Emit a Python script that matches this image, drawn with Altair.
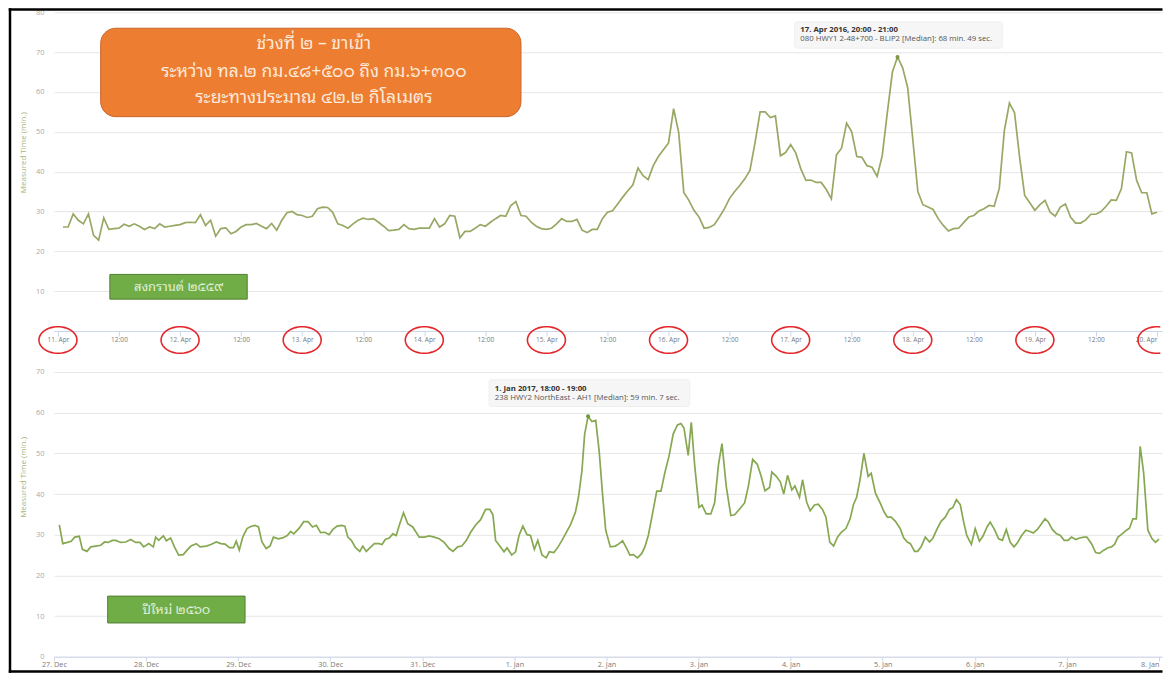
import math
import altair as alt
import pandas as pd

FONT = "Open Sans"
THAI = "Noto Sans Thai Looped, Noto Serif Thai, Loma, Garuda, Norasi, Tlwg Typo, Noto Sans Thai, sans-serif"

# ---------------- top panel : Songkran 2016 (hourly, from 11 Apr 01:00) ----------------
TOP_START = "2016-04-11 00:00"
TOP_VALUES = [
    26.1, 26.1, 29.4, 27.8, 26.9, 29.4, 24.0, 22.8, 28.4, 25.5,
    25.7, 25.8, 26.8, 26.3, 26.9, 26.3, 25.5, 26.1, 25.7, 26.9,
    26.1, 26.3, 26.5, 26.7, 27.2, 27.3, 27.2, 29.2, 26.5, 27.8,
    23.8, 25.7, 25.9, 24.4, 25.0, 26.1, 26.7, 26.7, 27.0, 26.3,
    25.7, 27.0, 25.3, 27.8, 29.7, 30.0, 29.2, 29.0, 28.5, 28.8,
    30.7, 31.1, 31.0, 29.8, 26.9, 26.5, 25.8, 26.9, 27.8, 28.3,
    28.0, 28.2, 27.3, 26.3, 25.2, 25.3, 25.5, 26.7, 25.7, 25.5,
    25.8, 25.8, 25.8, 28.2, 26.1, 26.9, 29.0, 28.8, 23.4, 25.0,
    25.0, 25.8, 26.7, 26.3, 27.3, 28.2, 29.0, 28.8, 31.5, 32.5,
    29.0, 28.8, 27.3, 26.3, 25.7, 25.5, 25.8, 26.9, 28.2, 27.5,
    27.5, 28.0, 25.3, 24.7, 25.5, 25.5, 28.2, 29.8, 30.2, 31.9,
    33.6, 35.2, 36.7, 40.9, 39.0, 38.0, 41.5, 43.8, 45.5, 47.2,
    55.8, 49.8, 34.8, 32.8, 30.3, 28.6, 25.8, 26.0, 26.7, 28.6,
    30.7, 33.3, 35.0, 36.5, 38.2, 40.3, 47.3, 55.0, 55.0, 53.6,
    54.0, 44.0, 44.8, 46.8, 44.7, 40.7, 37.8, 37.9, 37.3, 37.3,
    35.5, 33.2, 44.2, 45.9, 52.2, 50.0, 43.8, 43.6, 41.5, 41.1,
    38.8, 44.0, 54.8, 65.0, 68.8, 66.1, 61.1, 48.2, 35.0, 31.7,
    31.1, 30.5, 28.2, 26.5, 25.1, 25.7, 25.8, 27.2, 28.6, 29.0,
    30.1, 30.7, 31.5, 31.3, 35.8, 50.3, 57.2, 54.8, 43.6, 34.0,
    32.2, 30.3, 31.7, 32.8, 29.8, 28.8, 31.1, 31.9, 28.6, 27.1,
    27.1, 27.9, 29.3, 29.3, 30.0, 31.3, 32.9, 32.8, 35.7, 45.0,
    44.7, 37.8, 34.7, 34.7, 29.4, 29.8,
]
TOP_DOMAIN = ("2016-04-10 23:13", "2016-04-20 00:59")
TOP_Y_TICKS = [10, 20, 30, 40, 50, 60, 70, 80]
TOP_CIRCLED_DAYS = ["2016-04-11", "2016-04-12", "2016-04-13", "2016-04-14", "2016-04-15",
                    "2016-04-16", "2016-04-17", "2016-04-18", "2016-04-19"]
TOP_CIRCLED_LAST = ["2016-04-20"]

# ---------------- bottom panel : New Year 2017 ----------------
BOT_START = "2016-12-27 00:00"
BOT_HOURS = [
    1.4, 2.3, 3.5, 4.5, 5.4, 6.6, 7.4, 8.6, 9.6, 10.9,
    12.2, 13.2, 14.1, 15.2, 16.1, 17.4, 18.7, 20.0, 21.3, 22.4,
    23.4, 24.7, 25.9, 26.5, 27.3, 28.5, 29.3, 30.4, 31.4, 32.5,
    33.7, 34.7, 35.7, 37.1, 38.1, 39.7, 40.9, 42.3, 43.5, 44.6,
    45.7, 46.8, 47.5, 48.3, 49.2, 50.3, 51.3, 52.4, 53.3, 54.2,
    55.3, 56.3, 57.2, 58.5, 59.6, 60.8, 61.7, 62.5, 63.9, 65.1,
    66.2, 67.4, 68.4, 69.5, 70.6, 71.7, 72.7, 73.8, 74.9, 75.8,
    76.6, 77.5, 78.6, 79.7, 80.5, 81.4, 82.4, 83.5, 84.7, 85.5,
    86.4, 87.4, 88.3, 89.2, 90.0, 91.1, 92.2, 93.5, 95.2, 96.5,
    97.8, 99.1, 100.4, 101.7, 103.0, 104.0, 105.2, 106.3, 107.5, 108.6,
    109.9, 111.2, 112.5, 113.6, 114.4, 115.1, 116.2, 117.3, 118.1, 119.3,
    120.3, 121.2, 122.2, 123.3, 124.2, 125.2, 126.1, 127.2, 128.3, 129.1,
    130.3, 131.4, 132.4, 133.5, 134.6, 135.9, 136.7, 137.6, 138.3, 139.2,
    140.2, 141.2, 142.1, 143.0, 143.8, 145.0, 146.3, 147.3, 148.2, 149.3,
    150.1, 151.0, 152.1, 153.2, 154.0, 154.9, 155.9, 157.1, 158.2, 159.2,
    160.3, 161.4, 162.5, 163.4, 164.2, 165.3, 166.1, 167.0, 168.1, 168.9,
    170.0, 171.2, 172.2, 173.2, 174.1, 175.2, 176.4, 177.4, 178.7, 180.0,
    181.0, 182.1, 183.3, 184.3, 185.3, 186.5, 187.1, 188.2, 189.3, 190.2,
    191.2, 192.3, 193.1, 194.3, 195.1, 196.2, 197.1, 198.2, 199.2, 200.3,
    201.2, 202.2, 203.2, 204.2, 205.2, 206.4, 207.5, 208.4, 209.2, 210.1,
    211.1, 212.2, 213.0, 214.1, 215.3, 216.3, 217.2, 218.2, 219.3, 220.5,
    221.5, 222.4, 223.2, 224.3, 225.1, 226.0, 227.1, 228.2, 229.1, 230.2,
    231.2, 232.3, 233.4, 234.3, 235.2, 236.2, 237.1, 237.9, 239.1, 240.1,
    241.2, 242.1, 243.2, 244.0, 245.1, 246.2, 247.2, 248.2, 249.2, 250.2,
    251.1, 252.2, 253.3, 254.4, 255.2, 256.3, 257.1, 258.3, 259.1, 260.2,
    261.3, 262.3, 263.3, 264.3, 265.2, 266.3, 267.3, 268.4, 269.2, 270.4,
    271.5, 272.5, 273.6, 274.7, 275.6, 276.4, 277.3, 278.4, 279.5, 280.3,
    281.2, 282.1, 283.1, 284.0, 285.1, 286.2, 287.1, 288.0,
]
BOT_VALUES = [
    32.4, 27.8, 28.1, 28.4, 29.4, 29.6, 26.4, 25.9, 27.0, 27.2,
    27.4, 28.2, 28.1, 28.6, 28.6, 28.1, 28.2, 28.8, 28.1, 28.1,
    27.0, 27.8, 27.0, 29.4, 28.6, 29.7, 28.5, 29.2, 27.0, 25.0,
    25.1, 26.2, 27.2, 27.8, 27.0, 27.2, 27.6, 28.2, 27.8, 27.7,
    26.8, 26.8, 28.4, 26.2, 29.4, 31.5, 32.0, 32.3, 31.9, 28.2,
    26.6, 27.2, 29.4, 29.0, 29.2, 29.8, 30.8, 30.2, 31.6, 33.2,
    33.2, 31.9, 32.3, 30.5, 30.6, 30.0, 31.3, 32.1, 32.3, 32.1,
    29.4, 28.6, 26.8, 25.9, 27.2, 25.9, 26.8, 27.8, 27.8, 27.6,
    28.9, 29.2, 30.2, 29.8, 32.3, 35.4, 32.7, 31.9, 29.4, 29.4,
    29.7, 29.4, 29.0, 28.1, 26.6, 25.9, 27.0, 27.2, 28.6, 30.6,
    32.4, 33.7, 36.2, 36.2, 34.9, 28.6, 27.2, 25.8, 26.8, 25.0,
    25.8, 29.8, 32.1, 30.0, 29.8, 26.4, 28.6, 25.0, 24.3, 25.8,
    25.6, 27.0, 28.6, 30.5, 32.4, 35.5, 39.2, 45.7, 54.6, 59.1,
    57.8, 58.1, 50.5, 39.6, 31.1, 27.0, 27.2, 27.8, 28.5, 26.6,
    25.0, 25.1, 24.3, 25.4, 27.0, 29.8, 34.7, 40.7, 40.7, 45.2,
    49.3, 54.8, 57.0, 57.3, 56.2, 49.5, 57.6, 46.9, 36.7, 37.3,
    35.1, 35.1, 37.9, 47.3, 52.4, 42.0, 34.7, 34.9, 36.3, 37.8,
    42.0, 48.5, 47.3, 44.4, 40.8, 41.6, 45.4, 44.4, 43.0, 40.0,
    44.6, 41.0, 42.0, 39.2, 43.5, 37.9, 35.9, 37.3, 37.5, 36.2,
    34.3, 28.2, 27.2, 29.4, 30.6, 31.5, 33.9, 37.5, 39.2, 43.6,
    50.0, 44.3, 45.1, 40.2, 37.9, 35.7, 34.3, 34.3, 33.3, 31.6,
    29.2, 28.2, 27.8, 25.9, 25.9, 27.0, 29.4, 28.2, 29.2, 31.5,
    33.3, 34.3, 36.2, 36.7, 38.6, 37.4, 33.1, 29.8, 27.6, 31.5,
    28.4, 29.6, 31.9, 33.1, 31.3, 29.0, 28.6, 31.3, 28.2, 27.0,
    28.0, 29.8, 31.1, 30.8, 30.4, 31.3, 32.3, 33.9, 33.2, 31.3,
    30.2, 29.8, 28.6, 28.6, 29.4, 28.8, 29.2, 29.4, 29.4, 27.8,
    25.6, 25.4, 26.2, 26.8, 27.0, 27.6, 29.4, 30.2, 31.1, 31.6,
    33.9, 33.9, 51.7, 45.2, 31.1, 29.0, 28.1, 28.9,
]
BOT_DOMAIN = ("2016-12-27 00:00", "2017-01-08 00:47")
BOT_Y_TICKS = [0, 10, 20, 30, 40, 50, 60, 70]

# ---------------- annotations (hours from panel start, values in minutes) ----------------
TOP_BOX = (8.4, 91.0, 76.0, 53.8)
TOP_BOX_LINES = ["ช่วงที่ ๒ – ขาเข้า",
                 "ระหว่าง ทล.๒ กม.๔๘+๕๐๐ ถึง กม.๖+๓๐๐",
                 "ระยะทางประมาณ ๔๒.๒ กิโลเมตร"]
TOP_BOX_LINE_H = 50.3
TOP_BOX_LINE_V = [72.0, 65.0, 58.5]
TOP_TAG = "สงกรานต์ ๒๕๕๙"
TOP_TAG_BOX = (10.2, 37.2, 14.2, 8.0)
BOT_TAG = "ปีใหม่ ๒๕๖๐"
BOT_TAG_BOX = (14.0, 49.8, 14.9, 8.3)
TOP_TIP = ["17. Apr 2016, 20:00 - 21:00",
           "080 HWY1 2-48+700 - BLIP2 [Median]: 68 min. 49 sec."]
TOP_TIP_BOX = (144.8, 185.6, 77.6, 71.0)
TOP_TIP_H = 145.9
TOP_TIP_V = [75.6, 73.2]
TOP_PEAK = (165.0, 68.8)
BOT_TIP = ["1. Jan 2017, 18:00 - 19:00",
           "238 HWY2 NorthEast - AH1 [Median]: 59 min. 7 sec."]
BOT_TIP_BOX = (113.4, 165.7, 68.1, 61.5)
BOT_TIP_H = 114.9
BOT_TIP_V = [65.9, 63.6]
BOT_PEAK = (139.2, 59.1)

TOP_W, TOP_H = 1109, 319
BOT_W, BOT_H = 1109, 285
GAP = 41


def ellipse_path(a0, a1, step, closed):
    angles = list(range(a0, a1, step)) + [a1]
    pts = [(math.cos(math.radians(a)), 0.7 * math.sin(math.radians(a))) for a in angles]
    d = "M " + " L ".join(f"{x:.3f} {y:.3f}" for x, y in pts)
    return d + (" Z" if closed else "")


ELLIPSE = ellipse_path(0, 360, 6, True)
ELLIPSE_CUT = ellipse_path(80, 280, 4, False)


def at(start, h):
    return pd.Timestamp(start) + pd.to_timedelta(h, unit="h")


def dt(ts):
    ts = pd.Timestamp(ts)
    return alt.DateTime(year=ts.year, month=ts.month, date=ts.day,
                        hours=ts.hour, minutes=ts.minute)


def annotations(start, X, Y, tag_box, tag, tip_box, tip_lines, tip_h, tip_v, peak, peak_color):
    layers = []
    tip_df = pd.DataFrame({"t": [at(start, tip_box[0])], "t2": [at(start, tip_box[1])],
                           "v": [tip_box[2]], "v2": [tip_box[3]]})
    layers.append(alt.Chart(tip_df).mark_rect(fill="#f6f6f6", stroke="#efefef", cornerRadius=2)
                  .encode(x=X(), x2="t2", y=Y(), y2="v2"))
    t1 = pd.DataFrame({"t": [at(start, tip_h)], "v": [tip_v[0]], "label": [tip_lines[0]]})
    t2 = pd.DataFrame({"t": [at(start, tip_h)], "v": [tip_v[1]], "label": [tip_lines[1]]})
    layers.append(alt.Chart(t1).mark_text(align="left", baseline="middle", font=FONT, fontSize=7.8,
                                          fontWeight="bold", color="#333333")
                  .encode(x=X(), y=Y(), text="label"))
    layers.append(alt.Chart(t2).mark_text(align="left", baseline="middle", font=FONT, fontSize=7.8,
                                          color="#555555")
                  .encode(x=X(), y=Y(), text="label"))
    pk = pd.DataFrame({"t": [at(start, peak[0])], "v": [peak[1]]})
    layers.append(alt.Chart(pk).mark_point(filled=True, size=16, color=peak_color, opacity=1)
                  .encode(x=X(), y=Y()))
    gdf = pd.DataFrame({"t": [at(start, tag_box[0])], "t2": [at(start, tag_box[1])],
                        "v": [tag_box[2]], "v2": [tag_box[3]]})
    layers.append(alt.Chart(gdf).mark_rect(fill="#70ad47", stroke="#507e32", strokeWidth=1)
                  .encode(x=X(), x2="t2", y=Y(), y2="v2"))
    gt = pd.DataFrame({"t": [at(start, (tag_box[0] + tag_box[1]) / 2)],
                       "v": [(tag_box[2] + tag_box[3]) / 2], "label": [tag]})
    layers.append(alt.Chart(gt).mark_text(align="center", baseline="middle", font=THAI, fontSize=13,
                                          color="#e2f0d9")
                  .encode(x=X(), y=Y(), text="label"))
    return layers


# ---------------- top chart ----------------
top_xs = alt.Scale(domain=[dt(TOP_DOMAIN[0]), dt(TOP_DOMAIN[1])])
top_ys = alt.Scale(domain=[0, 80], nice=False)
top_ticks = [dt(at(TOP_START, 12 * k)) for k in range(19)]
top_xaxis = alt.Axis(
    values=top_ticks, title=None, grid=False,
    labelExpr="hours(datum.value) == 0 ? timeFormat(datum.value, '%-d. %b') : timeFormat(datum.value, '%H:%M')",
    labelAlign={"condition": {"test": "datum.value > datetime(2016, 3, 19, 18)", "value": "right"},
                "value": "center"},
    labelFontSize=6.6, labelColor="#7a7a7a", labelPadding=1, tickSize=5, labelFont=FONT,
    domainColor="#ccd6eb", tickColor="#ccd6eb", labelFlush=False, labelOverlap=False)
top_yaxis = alt.Axis(
    values=TOP_Y_TICKS, title="Measured Time (min.)", titleColor="#a9b47b", titleFontSize=8,
    titleFontWeight="normal", titleFont=FONT, titlePadding=8, titleY=140, labelPadding=10,
    labelFontSize=7.5, labelColor="#aaaaaa", labelFont=FONT, domain=False, ticks=False,
    gridColor="#e6e6e6")
TX = lambda: alt.X("t:T", scale=top_xs, axis=top_xaxis)
TY = lambda: alt.Y("v:Q", scale=top_ys, axis=top_yaxis)

top_df = pd.DataFrame({"t": [at(TOP_START, h) for h in range(1, len(TOP_VALUES) + 1)],
                       "v": TOP_VALUES})
top_line = alt.Chart(top_df).mark_line(color="#97a865", strokeWidth=1.7).encode(x=TX(), y=TY())

ob = pd.DataFrame({"t": [at(TOP_START, TOP_BOX[0])], "t2": [at(TOP_START, TOP_BOX[1])],
                   "v": [TOP_BOX[2]], "v2": [TOP_BOX[3]]})
orange_rect = alt.Chart(ob).mark_rect(fill="#ed7d31", stroke="#c9652b", strokeWidth=1,
                                      cornerRadius=15).encode(x=TX(), x2="t2", y=TY(), y2="v2")
otx = pd.DataFrame({"t": [at(TOP_START, TOP_BOX_LINE_H)] * 3, "v": TOP_BOX_LINE_V,
                    "label": TOP_BOX_LINES})
orange_text = alt.Chart(otx).mark_text(align="center", baseline="middle", font=THAI, fontSize=17.5,
                                       color="#fdeada").encode(x=TX(), y=TY(), text="label")

ell = pd.DataFrame({"t": [pd.Timestamp(d) for d in TOP_CIRCLED_DAYS]})
ellipses = alt.Chart(ell).mark_point(shape=ELLIPSE, size=1444, filled=False, color="#e3262b",
                                     strokeWidth=1.6, strokeJoin="round", opacity=1).encode(
    x=TX(), y=alt.value(TOP_H + 9))
ell2 = pd.DataFrame({"t": [pd.Timestamp(d) for d in TOP_CIRCLED_LAST]})
ellipse_cut = alt.Chart(ell2).mark_point(shape=ELLIPSE_CUT, size=1444, filled=False,
                                         color="#e3262b", strokeWidth=1.6, strokeJoin="round",
                                         opacity=1).encode(
    x=TX(), y=alt.value(TOP_H + 9))

# black frame of the original screenshot (svg pixels relative to the top plot), drawn as
# stroke-less rects so that the chart bounds stay exact
FRAME_L, FRAME_R, FRAME_T = -45.25, 1109.5, -4
FRAME_B = TOP_H + GAP + BOT_H + 16
FW = 2.5
one = pd.DataFrame({"a": [0]})
frame_left = alt.Chart(one).mark_rect(color="black", strokeWidth=0).encode(
    x=alt.value(FRAME_L), x2=alt.value(FRAME_L + FW), y=alt.value(FRAME_T), y2=alt.value(FRAME_B))
frame_top = alt.Chart(one).mark_rect(color="black", strokeWidth=0).encode(
    x=alt.value(FRAME_L), x2=alt.value(FRAME_R), y=alt.value(FRAME_T), y2=alt.value(FRAME_T + FW))
frame_bottom = alt.Chart(one).mark_rect(color="black", strokeWidth=0).encode(
    x=alt.value(FRAME_L), x2=alt.value(FRAME_R), y=alt.value(FRAME_B - FW), y2=alt.value(FRAME_B))

top = alt.layer(
    top_line, orange_rect, orange_text,
    *annotations(TOP_START, TX, TY, TOP_TAG_BOX, TOP_TAG, TOP_TIP_BOX, TOP_TIP,
                 TOP_TIP_H, TOP_TIP_V, TOP_PEAK, "#7d9645"),
    ellipses, ellipse_cut, frame_left, frame_top, frame_bottom,
).properties(width=TOP_W, height=TOP_H)

# ---------------- bottom chart ----------------
bot_xs = alt.Scale(domain=[dt(BOT_DOMAIN[0]), dt(BOT_DOMAIN[1])])
bot_ys = alt.Scale(domain=[0, 70], nice=False)
bot_ticks = [dt(at(BOT_START, 24 * k)) for k in range(13)]
bot_xaxis = alt.Axis(
    values=bot_ticks, title=None, grid=False, format="%-d. %b", labelFont=FONT,
    labelAlign={"condition": {"test": "datum.value > datetime(2017, 0, 7, 12)", "value": "right"},
                "value": "center"},
    labelFontSize=7.3, labelColor="#7a7a7a", labelPadding=0, tickSize=4,
    domainColor="#ccd6eb", tickColor="#ccd6eb", labelFlush=False, labelOverlap=False)
bot_yaxis = alt.Axis(
    values=BOT_Y_TICKS, title="Measured Time (min.)", titleColor="#a9b47b", titleFontSize=8,
    titleFontWeight="normal", titleFont=FONT, titlePadding=8, titleY=105, labelPadding=10,
    labelFontSize=7.5, labelColor="#aaaaaa", labelFont=FONT, domain=False, ticks=False,
    gridColor="#e6e6e6")
BX = lambda: alt.X("t:T", scale=bot_xs, axis=bot_xaxis)
BY = lambda: alt.Y("v:Q", scale=bot_ys, axis=bot_yaxis)

bot_df = pd.DataFrame({"t": [at(BOT_START, h) for h in BOT_HOURS], "v": BOT_VALUES})
bot_line = alt.Chart(bot_df).mark_line(color="#86a851", strokeWidth=1.7).encode(x=BX(), y=BY())

bottom = alt.layer(
    bot_line,
    *annotations(BOT_START, BX, BY, BOT_TAG_BOX, BOT_TAG, BOT_TIP_BOX, BOT_TIP,
                 BOT_TIP_H, BOT_TIP_V, BOT_PEAK, "#6f9a3a"),
).properties(width=BOT_W, height=BOT_H)

chart = alt.vconcat(top, bottom, spacing=GAP, bounds="flush").properties(
    padding={"left": 0, "top": 0, "right": 0, "bottom": 0}
).configure(font=FONT, background="white").configure_view(stroke=None)

chart.save("out.html", embed_options={"renderer": "svg", "actions": False})
